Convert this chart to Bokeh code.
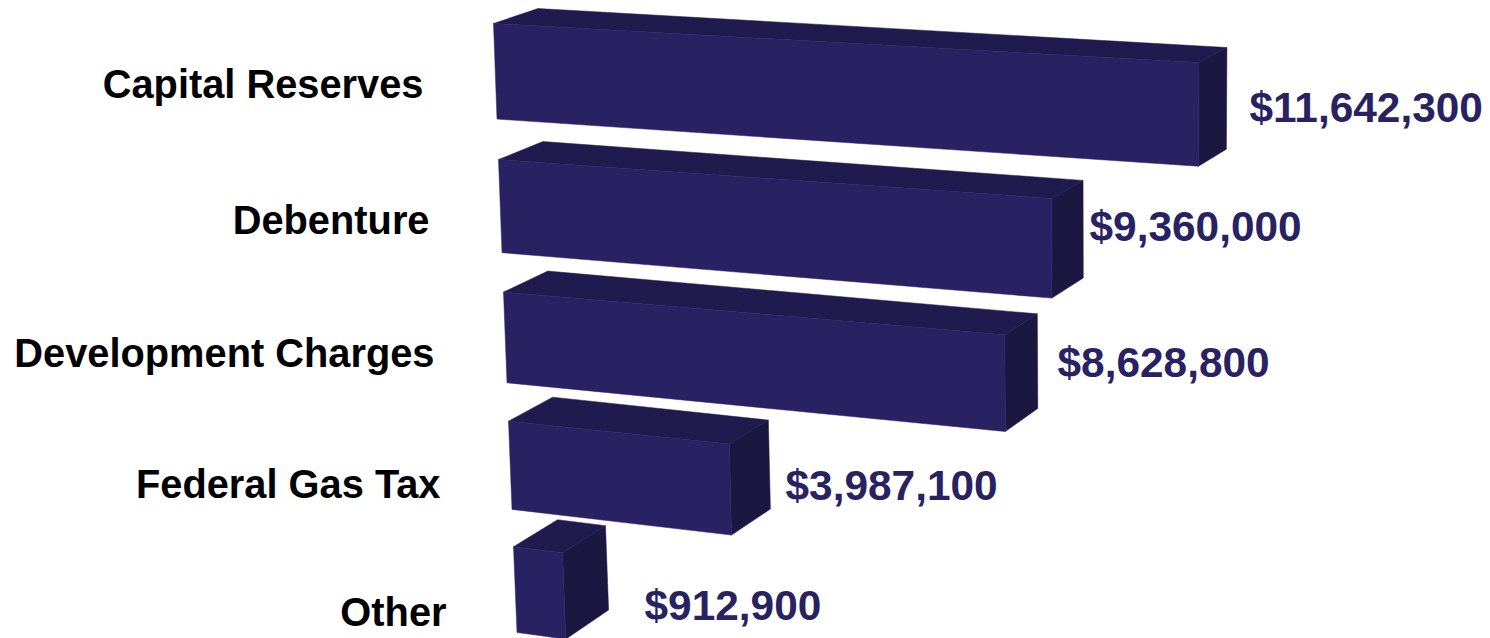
from bokeh.plotting import figure
from bokeh.models import Range1d
from bokeh.core.properties import value
from bokeh.embed import file_html
from bokeh.resources import INLINE

categories = ["Capital Reserves", "Debenture", "Development Charges", "Federal Gas Tax", "Other"]
amounts = [11642300, 9360000, 8628800, 3987100, 912900]
amount_labels = ["$11,642,300", "$9,360,000", "$8,628,800", "$3,987,100", "$912,900"]

FRONT, TOP, SIDE = "#282262", "#1f1b4e", "#1a1840"
BAR_H = 0.7
ROW_SCALE = [60.6, 59.1, 58.1, 55.4, 53.8]  # px per million in each receding row


def project(v, row, f, back=False):
    """Oblique-perspective projection: v = amount, row + f = position down the stack, back = rear face."""
    m = v / 1e6
    s = row + f
    x = 493 + 5 * s + m * (ROW_SCALE[row] - 0.5 * f)
    y = 23 + 137.8 * s - 1.75 * s * s + m * (3.35 + 0.8 * row + f)
    if back:
        x, y = x + 44.5 - 0.0235 * (x - 493), y - 15 - 3 * s
    return x, y


def poly(points):
    return [pt[0] for pt in points], [pt[1] for pt in points]


W, H = 1490, 638
p = figure(width=W, height=H, output_backend="svg", toolbar_location=None,
           x_range=Range1d(0, W), y_range=Range1d(H, 0),
           min_border=0, outline_line_color=None, background_fill_color="white")
p.axis.visible = False
p.grid.visible = False

for i, v in enumerate(amounts):
    fx, fy = poly([project(0, i, 0), project(v, i, 0), project(v, i, BAR_H), project(0, i, BAR_H)])
    tx, ty = poly([project(0, i, 0), project(v, i, 0), project(v, i, 0, True), project(0, i, 0, True)])
    sx, sy = poly([project(v, i, 0), project(v, i, 0, True), project(v, i, BAR_H, True), project(v, i, BAR_H)])
    p.patch(sx, sy, fill_color=SIDE, line_color=SIDE, line_width=0.5)
    p.patch(tx, ty, fill_color=TOP, line_color=TOP, line_width=0.5)
    p.patch(fx, fy, fill_color=FRONT, line_color=FRONT, line_width=0.5)

cat_right = [423, 429, 434, 440, 446]
cat_mid = [83, 219, 352, 483, 611]
val_left = [1249, 1089, 1057, 785, 644]
val_mid = [107, 226, 362, 485, 605]

p.text(cat_right, cat_mid, text=categories, text_align="right", text_baseline="middle",
       text_font=value("Liberation Sans"), text_font_style="bold", text_font_size="39.8px",
       text_color="#000000")
p.text(val_left, val_mid, text=amount_labels, text_align="left", text_baseline="middle",
       text_font=value("Liberation Sans"), text_font_style="bold", text_font_size="42.4px",
       text_color="#282262")

open("out.html", "w").write(file_html(p, INLINE))
